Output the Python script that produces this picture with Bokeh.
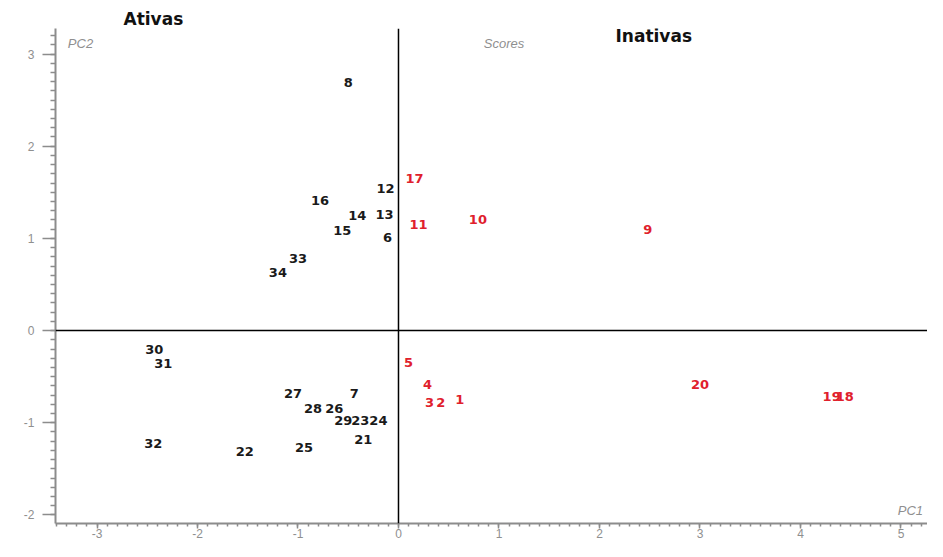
from bokeh.plotting import figure
from bokeh.models import (Range1d, SingleIntervalTicker, Span, Label, ColumnDataSource,
                          Title, PrintfTickFormatter)
from bokeh.core.properties import value
from bokeh.embed import file_html
from bokeh.resources import INLINE

# Active compounds (black labels)
ativas_labels = ["8", "12", "16", "14", "13", "15", "6", "33", "34", "30", "31",
                 "27", "7", "28", "26", "29", "23", "24", "21", "32", "22", "25"]
ativas_pc1 = [-0.50, -0.13, -0.78, -0.41, -0.14, -0.56, -0.11, -1.00, -1.20, -2.43, -2.34,
              -1.05, -0.44, -0.85, -0.64, -0.55, -0.38, -0.20, -0.35, -2.44, -1.53, -0.94]
ativas_pc2 = [2.69, 1.54, 1.41, 1.25, 1.26, 1.09, 1.01, 0.78, 0.63, -0.21, -0.36,
              -0.68, -0.68, -0.84, -0.84, -0.98, -0.98, -0.98, -1.18, -1.23, -1.31, -1.27]

# Inactive compounds (red labels)
inativas_labels = ["17", "11", "10", "9", "5", "4", "3", "2", "1", "20", "19", "18"]
inativas_pc1 = [0.16, 0.20, 0.79, 2.48, 0.10, 0.29, 0.31, 0.42, 0.61, 3.00, 4.31, 4.44]
inativas_pc2 = [1.65, 1.15, 1.20, 1.10, -0.35, -0.58, -0.78, -0.78, -0.75, -0.58, -0.72, -0.72]

AXIS_GRAY = "#8c8c8c"
LABEL_FONT = "DejaVu Sans"

p = figure(width=927, height=541, output_backend="svg", toolbar_location=None,
           x_range=Range1d(-3.413, 5.264), y_range=Range1d(-2.093, 3.277),
           min_border_left=55, min_border_right=0, min_border_top=28, min_border_bottom=18)
p.background_fill_color = "white"
p.border_fill_color = "white"
p.outline_line_color = None
p.xgrid.visible = False
p.ygrid.visible = False

for ax in (p.xaxis[0], p.yaxis[0]):
    ax.ticker = SingleIntervalTicker(interval=1, num_minor_ticks=10)
    ax.formatter = PrintfTickFormatter(format="%d")
    ax.axis_line_color = AXIS_GRAY
    ax.axis_line_width = 2
    ax.major_tick_line_color = AXIS_GRAY
    ax.major_tick_line_width = 1.5
    ax.minor_tick_line_color = AXIS_GRAY
    ax.minor_tick_line_width = 1.5
    ax.major_tick_in = 0
    ax.minor_tick_in = 0
    ax.major_label_text_color = "#8f8f8f"
    ax.major_label_text_font = "Liberation Sans"
    ax.major_label_text_font_size = "12px"

p.xaxis.major_tick_out = 5
p.xaxis.minor_tick_out = 3
p.xaxis.major_label_standoff = 0
p.yaxis.major_tick_out = 13
p.yaxis.minor_tick_out = 5
p.yaxis.major_label_standoff = 8

p.add_layout(Span(location=0, dimension="width", line_color="black", line_width=1.5))
p.add_layout(Span(location=0, dimension="height", line_color="black", line_width=1.5))

src_a = ColumnDataSource(dict(x=ativas_pc1, y=ativas_pc2, t=ativas_labels))
src_i = ColumnDataSource(dict(x=inativas_pc1, y=inativas_pc2, t=inativas_labels))

p.text(x="x", y="y", text="t", source=src_a, text_font=value(LABEL_FONT),
       text_font_style="bold", text_font_size="13px", text_color="#1a1a1a",
       text_align="center", text_baseline="middle")
p.text(x="x", y="y", text="t", source=src_i, text_font=value(LABEL_FONT),
       text_font_style="bold", text_font_size="13px", text_color="#e0202c",
       text_align="center", text_baseline="middle")

p.add_layout(Title(text="Ativas", align="left", offset=68, standoff=0,
                   text_font=LABEL_FONT, text_font_style="bold", text_font_size="17px",
                   text_color="#111111"), "above")
p.add_layout(Label(x=2.54, y=3.2, text="Inativas", text_font=LABEL_FONT,
                   text_font_style="bold", text_font_size="17px", text_color="#111111",
                   text_align="center", text_baseline="middle"))
p.add_layout(Label(x=1.05, y=3.11, text="Scores", text_font="Liberation Sans",
                   text_font_style="italic", text_font_size="13px", text_color="#8f8f8f",
                   text_align="center", text_baseline="middle"))
p.add_layout(Label(x=-3.29, y=3.11, text="PC2", text_font="Liberation Sans",
                   text_font_style="italic", text_font_size="13px", text_color="#8f8f8f",
                   text_align="left", text_baseline="middle"))
p.add_layout(Label(x=5.22, y=-1.95, text="PC1", text_font="Liberation Sans",
                   text_font_style="italic", text_font_size="13px", text_color="#8f8f8f",
                   text_align="right", text_baseline="middle"))

open("out.html", "w").write(file_html(p, INLINE))
